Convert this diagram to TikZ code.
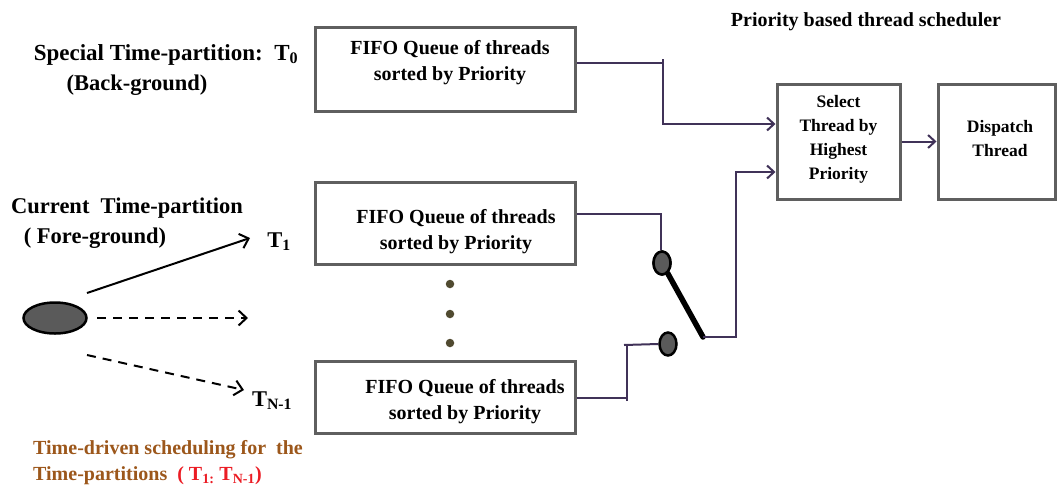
\documentclass[tikz,border=0pt]{standalone}
\usepackage{fontspec}
\setmainfont{Liberation Serif}
\usetikzlibrary{arrows.meta,shapes.geometric}
\definecolor{boxgray}{RGB}{95,95,95}
\definecolor{wire}{RGB}{64,50,88}
\definecolor{knob}{RGB}{90,90,90}
\definecolor{dotc}{RGB}{80,74,48}
\definecolor{brownt}{RGB}{156,87,27}
\definecolor{redt}{RGB}{235,28,36}
\begin{document}
\begin{tikzpicture}[x=1pt,y=-1pt,
  qbox/.style={draw=boxgray,line width=3pt,minimum width=260pt,inner sep=0pt,fill=white},
  sbox/.style={draw=boxgray,line width=3pt,minimum width=123pt,minimum height=115pt,inner sep=0pt},
  qtext/.style={font=\fontsize{20}{26}\selectfont\bfseries,align=center,inner sep=0pt},
  stext/.style={font=\fontsize{17.5}{24}\selectfont\bfseries,align=center,inner sep=0pt},
  lbl/.style={font=\fontsize{22.5}{30}\selectfont\bfseries,inner sep=0pt,anchor=base},
  conn/.style={draw=wire,line width=2pt},
  carrow/.style={conn,-{Straight Barb[length=7pt,width=13pt,line width=2pt]}},
  tarrow/.style={line width=2pt,-{Straight Barb[length=8pt,width=15pt,line width=2pt]}},
  contact/.style={ellipse,draw=black,line width=2.5pt,fill=knob,minimum width=17pt,minimum height=23pt,inner sep=0pt},
  vdot/.style={circle,fill=dotc,minimum size=8.5pt,inner sep=0pt},
  source/.style={ellipse,draw=black,line width=2.5pt,fill=knob,minimum width=63pt,minimum height=31pt,inner sep=0pt}
]
\useasboundingbox (0,0) rectangle (1057,485);

% queue boxes
\node[qbox,minimum height=84pt] (q0) at (445,69) {};
\node[qbox,minimum height=82pt] (q1) at (445,223) {};
\node[qbox,minimum height=72pt] (qn) at (445,397) {};
\node[qtext] (q0t) at (450,63) {FIFO Queue of threads\\ sorted by Priority};
\node[qtext] (q1t) at (456,232) {FIFO Queue of threads\\ sorted by Priority};
\node[qtext] (qnt) at (465,402) {FIFO Queue of threads\\ sorted by Priority};

% scheduler boxes
\node[sbox] (sel) at (838.5,141.5) {};
\node[sbox,minimum width=117pt] (disp) at (996.5,141.5) {};
\node[stext] (selt) at (838.5,139) {Select\\Thread by\\Highest\\Priority};
\node[stext] (dispt) at (1000,139) {Dispatch\\Thread};
\node[font=\fontsize{20}{24}\selectfont\bfseries,inner sep=0pt,anchor=base] (title) at (866,26) {Priority based thread scheduler};

% ellipsis dots between the queues
\node[vdot] (d1) at (450,284) {};
\node[vdot] (d2) at (450,314) {};
\node[vdot] (d3) at (450,343) {};

% switch contacts
\node[contact] (c1) at (662,263) {};
\node[contact] (c2) at (668,344) {};
\coordinate (sw) at (703,337);

% wiring
\coordinate (k0) at (663,63);
\coordinate (k0t) at (663,59);
\coordinate (k1) at (661,214);
\coordinate (kn) at (627,398);
\coordinate (knb) at (627,401);
\coordinate (knt) at (624,345);
\draw[conn] ([yshift=6pt]q0.east) -- (k0);
\draw[carrow] (k0t) |- ([yshift=17.5pt]sel.west);
\draw[conn] ([yshift=9pt]q1.east) -- (k1) -- (k1 |- c1.north);
\draw[conn] ([yshift=-1pt]qn.east) -- (kn);
\draw[conn] (knb) -- (627,345);
\draw[conn] (knt) -- (c2.west);
\draw[line width=5.5pt,line cap=round] (c1) -- (sw);
\node[contact] at (c1) {};
\draw[carrow] (sw) -- (736,337) |- ([yshift=-30.5pt]sel.west);
\draw[carrow] (sel.east) -- (disp.west);

% time-partition labels
\node[lbl,font=\fontsize{23}{30}\selectfont\bfseries] (sp) at (166,60) {Special Time-partition:\ \ T\textsubscript{0}};
\node[lbl] (bg) at (137,90) {(Back-ground)};
\node[lbl] (cur) at (127,213) {Current\ \ Time-partition};
\node[lbl] (fg) at (95,243) {( Fore-ground)};
\node[lbl] (t1) at (279,247) {T\textsubscript{1}};
\node[lbl] (tn) at (272,406) {T\textsubscript{N-1}};

% time-driven selector
\node[source] (src) at (55,318) {};
\coordinate (a1s) at (87,293);
\coordinate (a1e) at (250,238);
\coordinate (a2s) at (97,318);
\coordinate (a2e) at (248,318);
\coordinate (a3s) at (87,355);
\coordinate (a3e) at (244,390);
\draw[tarrow] (a1s) -- (a1e);
\draw[tarrow,dash pattern=on 9pt off 7pt] (a2s) -- (a2e);
\draw[tarrow,dash pattern=on 9pt off 7pt] (a3s) -- (a3e);

\node[font=\fontsize{20}{26}\selectfont\bfseries,text=brownt,align=left,inner sep=0pt,anchor=north west] (cap) at (33,440)
  {Time-driven scheduling for\ \ the\\Time-partitions\ \ \textcolor{redt}{( T\textsubscript{1:} T\textsubscript{N-1})}};
\end{tikzpicture}
\end{document}
